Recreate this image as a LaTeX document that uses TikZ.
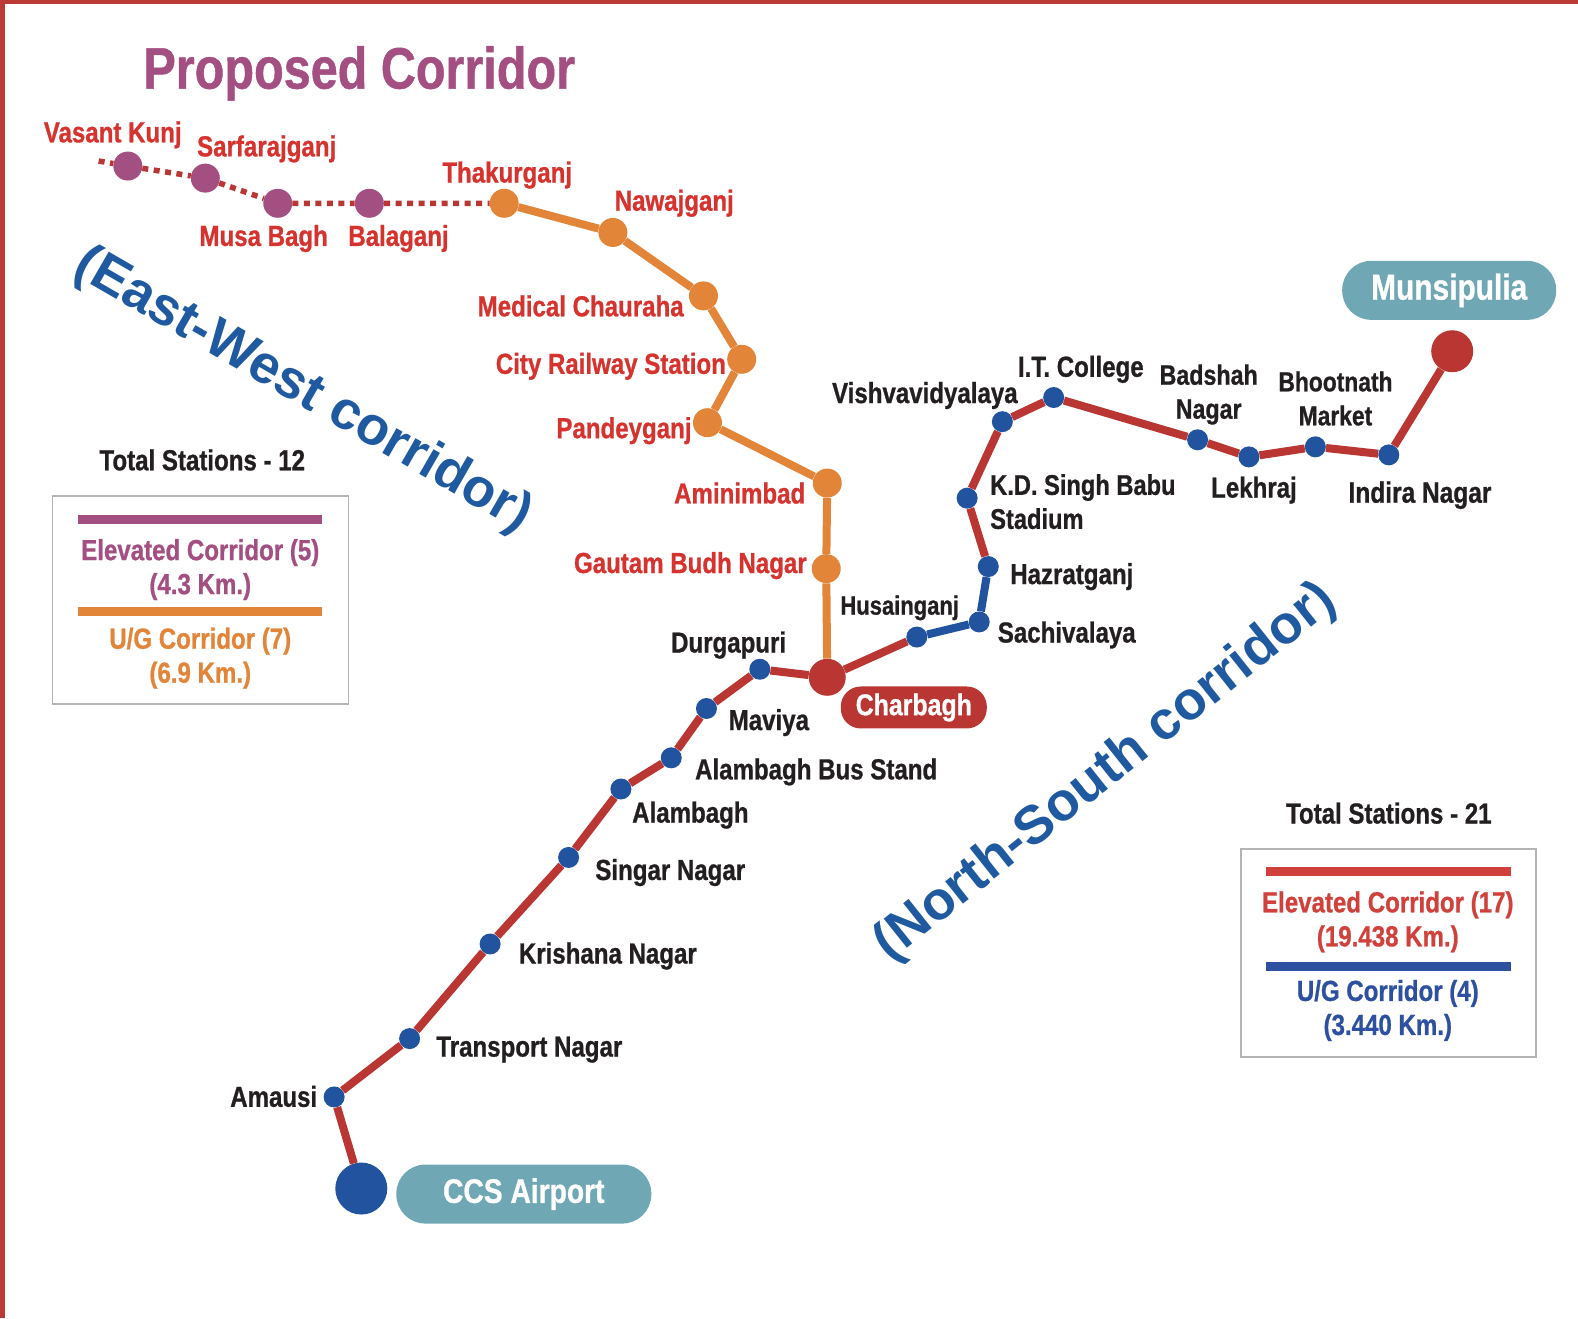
\documentclass[tikz,border=0pt]{standalone}
\usepackage{fontspec}
\setmainfont{Liberation Sans}[FakeStretch=0.83, BoldFeatures={FakeBold=0.8}]
\newfontfamily\widefont{Liberation Sans}
\definecolor{linered}{HTML}{B93632}
\definecolor{textred}{HTML}{D6322E}
\definecolor{textdark}{HTML}{231F20}
\definecolor{purpleline}{HTML}{A44F82}
\definecolor{orangeline}{HTML}{E28539}
\definecolor{blueline}{HTML}{22539F}
\definecolor{legendblue}{HTML}{2E50A0}
\definecolor{legendred}{HTML}{D0413C}
\definecolor{slantblue}{HTML}{1F5AA0}
\definecolor{pillteal}{HTML}{6FA8B4}
\definecolor{framegray}{HTML}{B4B4B4}
\tikzset{
    stopnode/.style={circle, inner sep=0pt, minimum size=21pt, fill=blueline},
    purplestop/.style={circle, inner sep=0pt, minimum size=29pt, fill=purpleline},
    orangestop/.style={circle, inner sep=0pt, minimum size=29pt, fill=orangeline},
    darklabel/.style={text=textdark, font=\fontsize{29}{34}\selectfont\bfseries, align=center, inner sep=0pt},
    redlabel/.style={text=textred, font=\fontsize{29}{34}\selectfont\bfseries, align=center, inner sep=0pt},
    pillnode/.style={text=white, font=\fontsize{#1}{#1}\selectfont\bfseries, rounded corners=20pt, inner sep=0pt},
    legendbox/.style={draw=framegray, line width=1.5pt, fill=white},
    corridorlabel/.style={text=slantblue, font=\fontsize{54}{54}\selectfont\widefont\bfseries, inner sep=0pt}
}
\begin{document}
\begin{tikzpicture}[x=1.00638pt, y=-1.00638pt]
\useasboundingbox (0,0) rectangle (1568,1310);
\fill[legendred!90!black] (0,0) rectangle (1568,3.5);
\fill[legendred!90!black] (0,0) rectangle (5,1310);

\node[text=purpleline, font=\fontsize{58.5}{59}\selectfont\bfseries, inner sep=0pt] (title) at (357,73) {Proposed Corridor};

\coordinate (westend) at (98,160);
\node[purplestop] (vasantkunj) at (127,165) {};
\node[purplestop] (sarfarajganj) at (204,177) {};
\node[purplestop] (musabagh) at (276,202) {};
\node[purplestop] (balaganj) at (367,202) {};
\node[orangestop] (thakurganj) at (501,202) {};
\node[orangestop] (nawajganj) at (609,231) {};
\node[orangestop] (medical) at (699,294) {};
\node[orangestop] (cityrailway) at (737,357) {};
\node[orangestop] (pandeyganj) at (703,420) {};
\node[orangestop] (aminimbad) at (822,480) {};
\node[orangestop] (gautambudh) at (821,565) {};

\node[stopnode, minimum size=52pt] (airport) at (359,1181) {};
\node[stopnode] (amausi) at (332,1090) {};
\node[stopnode] (transport) at (407,1032) {};
\node[stopnode] (krishana) at (487,938) {};
\node[stopnode] (singar) at (565,852) {};
\node[stopnode] (alambagh) at (617,784) {};
\node[stopnode] (busstand) at (667,753) {};
\node[stopnode] (maviya) at (702,704) {};
\node[stopnode] (durgapuri) at (755,665) {};
\node[stopnode, fill=linered, minimum size=37pt] (charbagh) at (822,673) {};
\node[stopnode] (husainganj) at (911,633) {};
\node[stopnode] (sachivalaya) at (973,618) {};
\node[stopnode] (hazratganj) at (982,563) {};
\node[stopnode] (kdsingh) at (961,495) {};
\node[stopnode] (vishva) at (996,419) {};
\node[stopnode] (itcollege) at (1047,395) {};
\node[stopnode] (badshah) at (1190,437) {};
\node[stopnode] (lekhraj) at (1241,454) {};
\node[stopnode] (bhootnath) at (1307,444) {};
\node[stopnode] (indira) at (1380,452) {};
\node[stopnode, fill=linered, minimum size=42pt] (munsipulia) at (1443,349) {};

\draw[linered, line width=5.5pt, dash pattern=on 6pt off 5.5pt]
    (westend) -- (vasantkunj) -- (sarfarajganj) -- (musabagh) -- (balaganj) -- (thakurganj);
\draw[orangeline, line width=8pt]
    (thakurganj) -- (nawajganj) -- (medical) -- (cityrailway) -- (pandeyganj) -- (aminimbad) -- (gautambudh) -- (charbagh);
\draw[linered, line width=8pt]
    (airport) -- (amausi) -- (transport) -- (krishana) -- (singar) -- (alambagh) -- (busstand) -- (maviya) -- (durgapuri) -- (charbagh) -- (husainganj);
\draw[blueline, line width=8pt] (husainganj) -- (sachivalaya) -- (hazratganj);
\draw[linered, line width=8pt]
    (hazratganj) -- (kdsingh) -- (vishva) -- (itcollege) -- (badshah) -- (lekhraj) -- (bhootnath) -- (indira) -- (munsipulia);

\node[redlabel] (lblvasant) at (112,134) {Vasant Kunj};
\node[redlabel] (lblsarfaraj) at (265,148) {Sarfarajganj};
\node[redlabel] (lblmusa) at (262,237) {Musa Bagh};
\node[redlabel] (lblbala) at (396,237) {Balaganj};
\node[redlabel] (lblthakur) at (504,174) {Thakurganj};
\node[redlabel] (lblnawaj) at (670,202) {Nawajganj};
\node[redlabel] (lblmedical) at (577,304) {Medical Chauraha};
\node[redlabel] (lblcity) at (607,364) {City Railway Station};
\node[redlabel] (lblpandey) at (620,428) {Pandeyganj};
\node[redlabel] (lblamini) at (735,490) {Aminimbad};
\node[redlabel] (lblgautam) at (686,562) {Gautam Budh Nagar};

\node[darklabel, font=\fontsize{26.5}{34}\selectfont\bfseries] (lblhusain) at (894,604) {Husainganj};
\node[darklabel] (lbldurga) at (724,641) {Durgapuri};
\node[darklabel] (lblmaviya) at (764,718) {Maviya};
\node[darklabel] (lblbus) at (811,767) {Alambagh Bus Stand};
\node[darklabel] (lblalam) at (686,810) {Alambagh};
\node[darklabel] (lblsingar) at (666,867) {Singar Nagar};
\node[darklabel] (lblkrish) at (604,950) {Krishana Nagar};
\node[darklabel] (lbltrans) at (526,1043) {Transport Nagar};
\node[darklabel] (lblamausi) at (272,1089.5) {Amausi};
\node[darklabel] (lblsachi) at (1060,631) {Sachivalaya};
\node[darklabel] (lblhazrat) at (1065,573) {Hazratganj};
\node[darklabel, align=left, font=\fontsize{28.5}{34}\selectfont\bfseries] (lblkd) at (1076,498.5) {K.D. Singh Babu\\Stadium};
\node[darklabel] (lblvishva) at (919,393) {Vishvavidyalaya};
\node[darklabel] (lblit) at (1074,367) {I.T. College};
\node[darklabel, font=\fontsize{28}{34}\selectfont\bfseries] (lblbadshah) at (1201,392) {Badshah\\Nagar};
\node[darklabel] (lbllekh) at (1246,487) {Lekhraj};
\node[darklabel, font=\fontsize{27.5}{34}\selectfont\bfseries] (lblbhoot) at (1327,396) {Bhootnath\\Market};
\node[darklabel, font=\fontsize{29.5}{34}\selectfont\bfseries] (lblindira) at (1411,492) {Indira Nagar};

\node[pillnode=30, fill=linered, minimum width=146pt, minimum height=42pt] (pillcharbagh) at (908,703) {Charbagh};
\node[pillnode=34, fill=pillteal, rounded corners=29pt, minimum width=255pt, minimum height=59pt] (pillairport) at (520.5,1186.5) {CCS Airport};
\node[pillnode=36, fill=pillteal, rounded corners=29pt, minimum width=214pt, minimum height=59pt] (pillmunsi) at (1440,288.5) {Munsipulia};

\node[corridorlabel, rotate=-30] (eastwest) at (301,388) {(East-West corridor)};
\node[corridorlabel, rotate=38.5] (northsouth) at (1099,768) {(North-South corridor)};

\node[darklabel] (totalleft) at (201,457) {Total Stations - 12};
\node[legendbox, minimum width=296pt, minimum height=208pt] (boxleft) at (199,596) {};
\fill[purpleline] (78,511.5) rectangle (320,520.5);
\fill[orangeline] (78,603.5) rectangle (320,612.5);
\node[darklabel, text=purpleline] (legendelevleft) at (199,566) {Elevated Corridor (5)\\(4.3 Km.)};
\node[darklabel, text=orangeline] (legendugleft) at (199,654) {U/G Corridor (7)\\(6.9 Km.)};

\node[darklabel] (totalright) at (1380,808) {Total Stations - 21};
\node[legendbox, minimum width=295pt, minimum height=208pt] (boxright) at (1379.5,947) {};
\fill[legendred] (1258,861.5) rectangle (1501,870.5);
\fill[legendblue] (1258,955.5) rectangle (1501,964.5);
\node[darklabel, text=legendred] (legendelevright) at (1379,916) {Elevated Corridor (17)\\(19.438 Km.)};
\node[darklabel, text=legendblue] (legendugright) at (1379,1004) {U/G Corridor (4)\\(3.440 Km.)};
\end{tikzpicture}
\end{document}
